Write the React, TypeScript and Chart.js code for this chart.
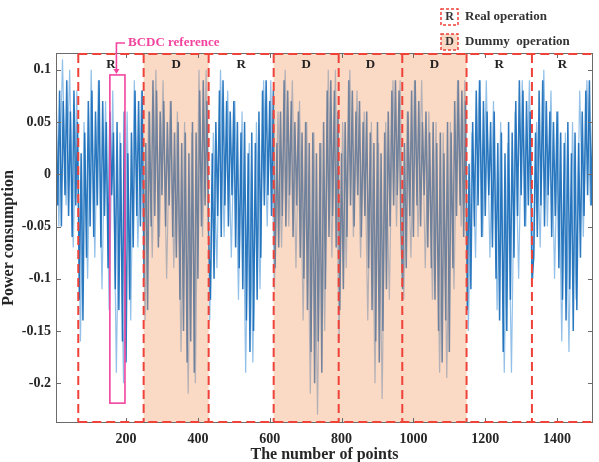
import React, { useEffect, useRef } from "react";
import { Chart, registerables } from "chart.js";

Chart.register(...registerables);

// ---- data (power consumption, sampled every 5 points for the core trace) ----
const seg0 = [-0.24, 0.05, -0.03, 0.08, -0.05, 0.07, -0.02, 0.09, -0.04, 0.06, -0.06, 0.08, -0.03, 0.05];
const seg1 = [-0.12, 0.02, -0.14, 0.04, -0.08, 0.07, -0.05, 0.08, -0.06, 0.06, -0.03, 0.09, -0.07, 0.07, -0.04, 0.05, -0.09, 0.06, -0.02, 0.04, -0.11, 0.05, -0.13, 0.03, -0.16, 0.06, -0.18, 0.02, -0.12, 0.04, -0.07, 0.08, -0.04, 0.07, -0.05, 0.08];
const seg2 = [-0.10, 0.03, -0.13, 0.06, -0.05, 0.09, -0.04, 0.08, -0.07, 0.06, -0.02, 0.07, -0.05, 0.05, -0.03, 0.07, -0.06, 0.04, -0.08, 0.05, -0.12, 0.03, -0.15, 0.04, -0.18, 0.02, -0.16, 0.05, -0.19, 0.04, -0.10, 0.08, -0.05, 0.09, -0.03, 0.07, -0.06];
const seg3 = [-0.12, 0.02, -0.10, 0.05, -0.04, 0.08, -0.06, 0.09, -0.03, 0.07, -0.05, 0.06, -0.02, 0.07, -0.07, 0.05, -0.09, 0.04, -0.11, 0.05, -0.14, 0.02, -0.17, 0.04, -0.15, 0.03, -0.12, 0.06, -0.08, 0.08, -0.03, 0.09, -0.02, 0.07, -0.04, 0.08];
const seg4 = [-0.09, 0.03, -0.07, 0.06, -0.04, 0.09, -0.05, 0.08, -0.02, 0.07, -0.06, 0.05, -0.03, 0.06, -0.08, 0.04, -0.10, 0.05, -0.13, 0.03, -0.17, 0.04, -0.20, 0.02, -0.16, 0.03, -0.19, 0.05, -0.11, 0.08, -0.06, 0.09, -0.04, 0.08, -0.07, 0.06];
const seg5 = [-0.13, 0.02, -0.11, 0.05, -0.06, 0.09, -0.03, 0.08, -0.05, 0.06, -0.02, 0.07, -0.06, 0.05, -0.04, 0.06, -0.09, 0.04, -0.13, 0.03, -0.16, 0.05, -0.18, 0.02, -0.15, 0.04, -0.11, 0.06, -0.05, 0.08, -0.03, 0.09, -0.02, 0.08, -0.05];
const seg6 = [-0.11, 0.03, -0.09, 0.06, -0.04, 0.08, -0.06, 0.09, -0.03, 0.07, -0.05, 0.05, -0.02, 0.06, -0.07, 0.04, -0.09, 0.05, -0.12, 0.03, -0.15, 0.04, -0.18, 0.02, -0.14, 0.05, -0.17, 0.04, -0.09, 0.07, -0.04, 0.09, -0.03, 0.08, -0.06, 0.07];
const seg7 = [-0.13, 0.01, -0.11, 0.05, -0.05, 0.08, -0.03, 0.09, -0.06, 0.07, -0.04, 0.06, -0.02, 0.05, -0.07, 0.06, -0.10, 0.03, -0.14, 0.04, -0.17, 0.02, -0.15, 0.05, -0.12, 0.04, -0.08, 0.07, -0.04, 0.09, -0.02, 0.08, -0.05, 0.07, -0.03, 0.06, -0.10];
const seg8 = [-0.08, 0.04, -0.06, 0.08, -0.03, 0.09, -0.05, 0.07, -0.02, 0.06, -0.06, 0.05, -0.04, 0.06, -0.09, 0.04, -0.12, 0.03, -0.14, 0.05, -0.11, 0.02, -0.15, 0.04, -0.13, 0.03, -0.08, 0.06, -0.04, 0.08, -0.02, 0.09, -0.03, 0.07];

// lighter, more extreme trace (sampled every 10 points, offset 3)
const light0 = [0.12, -0.05, 0.11, -0.03, 0.10, -0.07, 0.08];
const light1 = [-0.16, 0.05, -0.10, 0.10, -0.08, 0.09, -0.11, 0.07, -0.13, 0.08, -0.19, 0.04, -0.20, 0.06, -0.14, 0.09, -0.07, 0.08];
const light2 = [-0.14, 0.06, -0.08, 0.10, -0.06, 0.09, -0.10, 0.07, -0.09, 0.06, -0.17, 0.05, -0.21, 0.04, -0.20, 0.10, -0.06, 0.10];
const light3 = [-0.14, 0.04, -0.09, 0.10, -0.06, 0.08, -0.08, 0.07, -0.12, 0.06, -0.19, 0.03, -0.18, 0.05, -0.11, 0.09, -0.05, 0.09];
const light4 = [-0.11, 0.06, -0.07, 0.10, -0.05, 0.09, -0.09, 0.07, -0.14, 0.05, -0.21, 0.04, -0.23, 0.03, -0.15, 0.10, -0.08, 0.10];
const light5 = [-0.16, 0.05, -0.09, 0.10, -0.06, 0.08, -0.08, 0.06, -0.14, 0.05, -0.20, 0.03, -0.215, 0.05, -0.12, 0.09, -0.05, 0.09];
const light6 = [-0.12, 0.06, -0.08, 0.09, -0.06, 0.09, -0.09, 0.06, -0.12, 0.05, -0.19, 0.04, -0.195, 0.05, -0.11, 0.09, -0.05, 0.09];
const light7 = [-0.15, 0.04, -0.08, 0.09, -0.06, 0.09, -0.08, 0.07, -0.13, 0.05, -0.19, 0.03, -0.19, 0.06, -0.10, 0.09, -0.05, 0.09];
const light8 = [-0.10, 0.05, -0.07, 0.10, -0.05, 0.08, -0.10, 0.06, -0.16, 0.04, -0.17, 0.05, -0.12, 0.08, -0.06, 0.09, -0.03];

// operation segments
const segStarts = [67, 249, 430, 611, 792, 969, 1148, 1330];
const segKinds = ["R", "D", "R", "D", "D", "D", "R", "R"];
const xEnd = 1500;

// BCDC reference window
const bcdcStart = 155;
const bcdcEnd = 197;
const bcdcTop = 0.095;
const bcdcBottom = -0.219;

// ticks
const xTicks = [200, 400, 600, 800, 1000, 1200, 1400];
const yTicks = [-0.2, -0.15, -0.1, -0.05, 0, 0.05, 0.1];

const mainValues = [...seg0, ...seg1, ...seg2, ...seg3, ...seg4, ...seg5, ...seg6, ...seg7, ...seg8];
const lightValues = [...light0, ...light1, ...light2, ...light3, ...light4, ...light5, ...light6, ...light7, ...light8];
const mainPts = mainValues.map((v, i) => ({ x: i * 5, y: v }));
const lightPts = lightValues.map((v, i) => ({ x: 3 + i * 10, y: v }));

const SERIF = "'Liberation Serif', 'DejaVu Serif', serif";
const RED = "#ef4238";
const PINK = "#f2449f";

const overlay = {
  id: "overlay",
  afterDatasetsDraw(chart: any) {
    const { ctx, chartArea, scales } = chart;
    const { left, right, top, bottom } = chartArea;
    const xs = scales.x;
    const ys = scales.y;
    ctx.save();

    // shading for dummy operations
    ctx.fillStyle = "rgba(240,150,95,0.36)";
    segStarts.forEach((s, i) => {
      if (segKinds[i] !== "D") return;
      const e = i + 1 < segStarts.length ? segStarts[i + 1] : xEnd;
      const x0 = xs.getPixelForValue(s);
      const x1 = xs.getPixelForValue(e);
      ctx.fillRect(x0, top, x1 - x0, bottom - top);
    });

    // axes box
    ctx.strokeStyle = "#6b6b6b";
    ctx.lineWidth = 1;
    ctx.setLineDash([]);
    ctx.strokeRect(left + 0.5, top + 0.5, right - left - 1, bottom - top - 1);
    // inner tick marks
    ctx.beginPath();
    xTicks.forEach((t) => {
      const px = Math.round(xs.getPixelForValue(t)) + 0.5;
      ctx.moveTo(px, bottom);
      ctx.lineTo(px, bottom - 5);
      ctx.moveTo(px, top);
      ctx.lineTo(px, top + 5);
    });
    yTicks.forEach((t) => {
      const py = Math.round(ys.getPixelForValue(t)) + 0.5;
      ctx.moveTo(left, py);
      ctx.lineTo(left + 5, py);
      ctx.moveTo(right, py);
      ctx.lineTo(right - 5, py);
    });
    ctx.stroke();

    // red dashed segment frames
    ctx.strokeStyle = RED;
    ctx.lineWidth = 2;
    ctx.setLineDash([9, 5]);
    const firstX = xs.getPixelForValue(segStarts[0]);
    ctx.beginPath();
    segStarts.forEach((s) => {
      const px = xs.getPixelForValue(s);
      ctx.moveTo(px, top + 1);
      ctx.lineTo(px, bottom - 1);
    });
    ctx.moveTo(firstX, top + 1);
    ctx.lineTo(right, top + 1);
    ctx.moveTo(firstX, bottom - 1);
    ctx.lineTo(right, bottom - 1);
    ctx.stroke();
    ctx.setLineDash([]);

    // R / D labels
    ctx.fillStyle = "#222";
    ctx.font = `bold 13px ${SERIF}`;
    ctx.textAlign = "center";
    ctx.textBaseline = "middle";
    segStarts.forEach((s, i) => {
      const e = i + 1 < segStarts.length ? segStarts[i + 1] : xEnd;
      const cx = (xs.getPixelForValue(s) + xs.getPixelForValue(e)) / 2;
      ctx.fillText(segKinds[i], cx, top + 12);
    });

    // BCDC reference rectangle + label
    const bx0 = xs.getPixelForValue(bcdcStart);
    const bx1 = xs.getPixelForValue(bcdcEnd);
    const by0 = ys.getPixelForValue(bcdcTop);
    const by1 = ys.getPixelForValue(bcdcBottom);
    ctx.strokeStyle = PINK;
    ctx.lineWidth = 1.6;
    ctx.strokeRect(bx0, by0, bx1 - bx0, by1 - by0);
    const bcx = (bx0 + bx1) / 2 - 1;
    ctx.beginPath();
    ctx.moveTo(bcx, by0 - 3);
    ctx.lineTo(bcx, 43);
    ctx.lineTo(bx1, 43);
    ctx.stroke();
    ctx.fillStyle = PINK;
    ctx.beginPath();
    ctx.moveTo(bcx - 3, by0 - 6);
    ctx.lineTo(bcx + 3, by0 - 6);
    ctx.lineTo(bcx, by0 - 1);
    ctx.closePath();
    ctx.fill();
    ctx.font = `bold 13px ${SERIF}`;
    ctx.textAlign = "left";
    ctx.fillText("BCDC reference", bx1 + 3, 43);

    ctx.restore();
  },
  afterDraw(chart: any) {
    const { ctx, chartArea } = chart;
    const { left, right, top, bottom } = chartArea;
    ctx.save();
    // legend
    const items = [
      { k: "R", t: "Real operation", y: 17, fill: "#ffffff" },
      { k: "D", t: "Dummy  operation", y: 42, fill: "rgba(240,150,95,0.36)" },
    ];
    items.forEach((it) => {
      ctx.fillStyle = it.fill;
      ctx.fillRect(441, it.y - 8, 17, 16);
      ctx.strokeStyle = RED;
      ctx.lineWidth = 1.5;
      ctx.setLineDash([3, 2]);
      ctx.strokeRect(441, it.y - 8, 17, 16);
      ctx.setLineDash([]);
      ctx.fillStyle = "#333";
      ctx.font = `bold 12px ${SERIF}`;
      ctx.textAlign = "center";
      ctx.textBaseline = "middle";
      ctx.fillText(it.k, 449.5, it.y);
      ctx.font = `bold 13px ${SERIF}`;
      ctx.textAlign = "left";
      ctx.fillText(it.t, 465, it.y);
    });

    // axis titles
    ctx.fillStyle = "#262626";
    ctx.font = `bold 16px ${SERIF}`;
    ctx.textAlign = "center";
    ctx.textBaseline = "middle";
    ctx.fillText("The number of points", (left + right) / 2, 455);
    ctx.translate(9, (top + bottom) / 2);
    ctx.rotate(-Math.PI / 2);
    ctx.fillText("Power consumption", 0, 0);
    ctx.restore();
  },
};

export default function App() {
  const ref = useRef<HTMLCanvasElement | null>(null);
  useEffect(() => {
    if (!ref.current) return;
    const tickFont = { family: SERIF, size: 14, weight: "bold" as const };
    const chart = new Chart(ref.current, {
      type: "line",
      data: {
        datasets: [
          {
            label: "Power",
            data: mainPts,
            borderColor: "rgba(22,106,184,0.9)",
            borderWidth: 1.5,
            pointRadius: 0,
            order: 0,
          },
          {
            label: "Power (light)",
            data: lightPts,
            borderColor: "rgba(100,165,222,0.7)",
            borderWidth: 1.2,
            pointRadius: 0,
            order: 1,
          },
        ],
      },
      options: {
        responsive: false,
        animation: false,
        layout: { padding: { top: 53, right: 6, left: 0, bottom: 0 } },
        plugins: { legend: { display: false }, tooltip: { enabled: false } },
        scales: {
          x: {
            type: "linear",
            min: 5,
            max: xEnd,
            afterBuildTicks: (s: any) => {
              s.ticks = xTicks.map((v) => ({ value: v }));
            },
            afterFit: (s: any) => {
              s.height = 39;
            },
            grid: { display: false, drawTicks: false },
            border: { display: false },
            ticks: {
              padding: 8,
              font: tickFont,
              color: "#262626",
              maxRotation: 0,
              autoSkip: false,
              callback: (v: any) => String(Number(v)),
            },
          },
          y: {
            type: "linear",
            min: -0.238,
            max: 0.116,
            afterBuildTicks: (s: any) => {
              s.ticks = yTicks.map((v) => ({ value: v }));
            },
            afterFit: (s: any) => {
              s.width = 56;
            },
            grid: { display: false, drawTicks: false },
            border: { display: false },
            ticks: {
              padding: 5,
              font: tickFont,
              color: "#262626",
              autoSkip: false,
              callback: (v: any) => {
                const n = Number(v);
                return Math.abs(n) < 1e-9 ? "0" : String(parseFloat(n.toFixed(2)));
              },
            },
          },
        },
      },
      plugins: [overlay],
    });
    return () => chart.destroy();
  }, []);
  return (
    <div style={{ position: "absolute", left: 0, top: 0, width: 599, height: 462, background: "#fff" }}>
      <canvas ref={ref} width={599} height={462} style={{ display: "block", width: 599, height: 462 }} />
    </div>
  );
}
